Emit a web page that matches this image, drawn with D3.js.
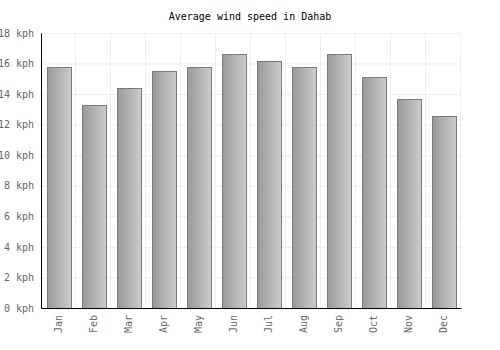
<!DOCTYPE html>
<html>
<head>
<meta charset="utf-8">
<script src="https://cdn.jsdelivr.net/npm/d3@7"></script>
<style>
  body { margin: 0; background: #fff; }
  text { font-family: "DejaVu Sans Mono", monospace; }
</style>
</head>
<body>
<div class="chart"></div>
<script>
// values
const months = ['Jan', 'Feb', 'Mar', 'Apr', 'May', 'Jun', 'Jul', 'Aug', 'Sep', 'Oct', 'Nov', 'Dec']
const windSpeed = [15.8, 13.3, 14.4, 15.5, 15.8, 16.6, 16.2, 15.8, 16.6, 15.1, 13.7, 12.6]
const yTicks = [0, 2, 4, 6, 8, 10, 12, 14, 16, 18]

const margin = { top: 33, right: 39, bottom: 42, left: 41 }
const width = 500 - margin.left - margin.right
const height = 350 - margin.top - margin.bottom

const root = d3.select('.chart')
  .append('svg')
    .attr('width', 500)
    .attr('height', 350)

// gradient for the bars, dark on the left to light on the right
const grad = root.append('defs')
  .append('linearGradient')
    .attr('id', 'barFill')
    .attr('x1', '0%').attr('x2', '100%')
    .attr('y1', '0%').attr('y2', '0%')
grad.append('stop').attr('offset', '0%').attr('stop-color', '#999')
grad.append('stop').attr('offset', '100%').attr('stop-color', '#ccc')

root.append('text')
  .attr('x', 250)
  .attr('y', 20)
  .attr('text-anchor', 'middle')
  .style('font-size', '10px')
  .attr('fill', '#000')
  .text('Average wind speed in Dahab')

const svg = root.append('g')
  .attr('transform', `translate(${margin.left}, ${margin.top})`)

const xScale = d3.scaleBand()
  .domain(months)
  .range([0, width])
  .paddingInner(0.32)
  .paddingOuter(0.16)

const yScale = d3.scaleLinear()
  .domain([0, 18])
  .range([height, 0])

// grid lines
svg.append('g')
  .selectAll('line')
  .data(yTicks)
  .join('line')
    .attr('x1', 0).attr('x2', width)
    .attr('y1', d => yScale(d) + 0.5).attr('y2', d => yScale(d) + 0.5)
    .attr('stroke', '#eee')

const step = xScale.step()
svg.append('g')
  .selectAll('line')
  .data(d3.range(1, months.length + 1))
  .join('line')
    .attr('x1', i => Math.round(i * step) - 0.5).attr('x2', i => Math.round(i * step) - 0.5)
    .attr('y1', 0).attr('y2', height)
    .attr('stroke', '#eee')

// bars
svg.append('g')
  .selectAll('rect')
  .data(windSpeed)
  .join('rect')
    .attr('x', (d, i) => Math.round(xScale(months[i])) + 0.5)
    .attr('y', d => Math.round(yScale(d)) + 0.5)
    .attr('width', Math.round(xScale.bandwidth()))
    .attr('height', d => height - Math.round(yScale(d)))
    .attr('fill', 'url(#barFill)')
    .attr('stroke', '#7a7a7a')

// y axis
const yAxis = d3.axisLeft(yScale)
  .tickValues(yTicks)
  .tickSize(0)
  .tickPadding(7)
  .tickFormat(d => d + ' kph')
const yg = svg.append('g').call(yAxis)
yg.select('.domain').attr('stroke', '#000')
yg.selectAll('text')
  .attr('fill', '#666')
  .style('font-size', '10px')
  .style('font-family', '"DejaVu Sans Mono", monospace')

// x axis
const xAxis = d3.axisBottom(xScale).tickSize(0)
const xg = svg.append('g')
  .attr('transform', `translate(0, ${height})`)
  .call(xAxis)
xg.select('.domain').attr('stroke', '#000')
xg.selectAll('text')
  .attr('fill', '#666')
  .style('font-size', '10px')
  .style('font-family', '"DejaVu Sans Mono", monospace')
  .attr('transform', 'rotate(-90)')
  .attr('text-anchor', 'end')
  .attr('x', -7)
  .attr('y', 0)
  .attr('dy', '0.35em')
</script>
</body>
</html>
